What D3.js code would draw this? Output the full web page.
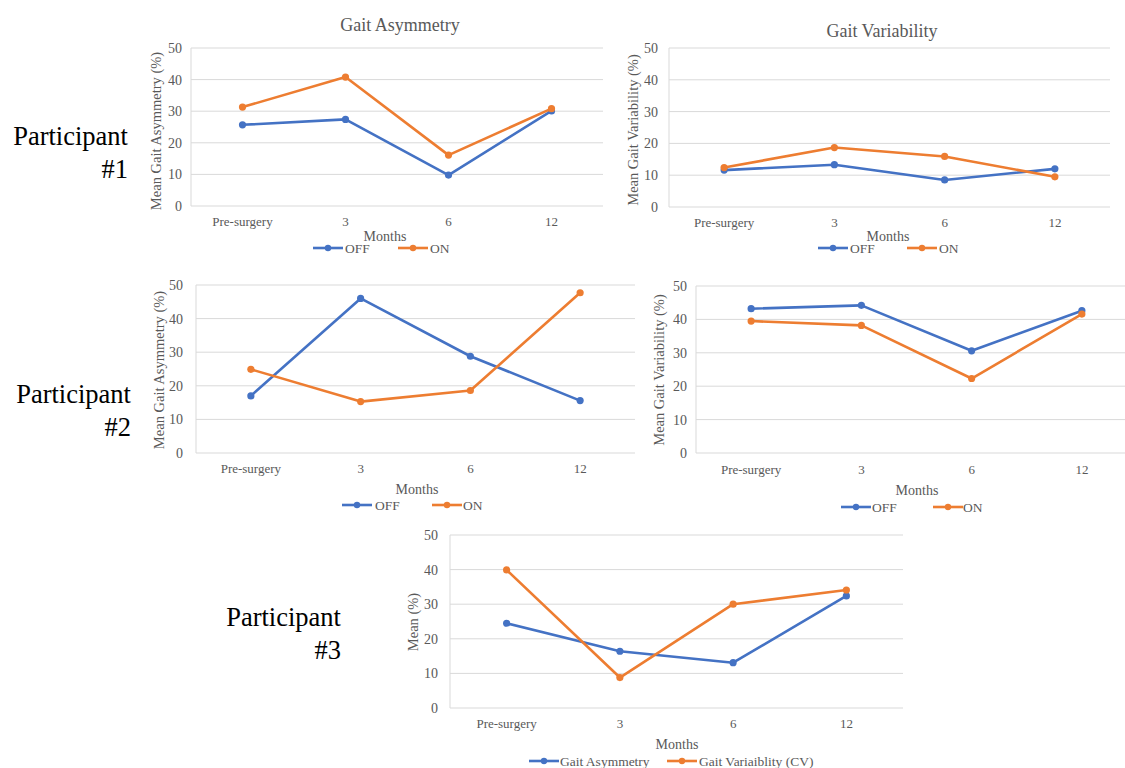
<!DOCTYPE html>
<html>
<head>
<meta charset="utf-8">
<script src="https://cdn.jsdelivr.net/npm/d3@7"></script>
<style>
html,body{margin:0;padding:0;background:#fff;}
svg text{font-family:'Liberation Serif','Times New Roman',Times,serif;}
</style>
</head>
<body>
<svg id="chart" width="1125" height="768"></svg>
<script>
// ---------- data ----------
const categories = ["Pre-surgery", "3", "6", "12"];
const yTicks = [0, 10, 20, 30, 40, 50];

const p1AsymOff = [25.7, 27.4, 9.8, 30.1];
const p1AsymOn  = [31.3, 40.8, 16.1, 30.8];
const p1VarOff  = [11.6, 13.3, 8.5, 12.0];
const p1VarOn   = [12.4, 18.7, 15.9, 9.5];
const p2AsymOff = [17.0, 46.0, 28.8, 15.6];
const p2AsymOn  = [24.9, 15.3, 18.6, 47.7];
const p2VarOff  = [43.2, 44.2, 30.6, 42.6];
const p2VarOn   = [39.5, 38.2, 22.3, 41.6];
const p3Asym    = [24.5, 16.4, 13.1, 32.4];
const p3Var     = [39.9, 8.8, 30.0, 34.1];

const seriesNamesOnOff = ["OFF", "ON"];
const seriesNamesP3 = ["Gait Asymmetry", "Gait Variaiblity (CV)"];
const colors = ["#4472C4", "#ED7D31"];

// ---------- layout ----------
const FONT = "Liberation Serif";
const panels = [
  {left:191, right:603, top:48, bottom:206, tickPad:9, title:"Gait Asymmetry", titleX:400, titleY:31,
   ylabel:"Mean Gait Asymmetry (%)", ylabelX:156, ylabelY:131, catY:226, monthsX:385, monthsY:241,
   series:[p1AsymOff, p1AsymOn], names:seriesNamesOnOff, legend:[{x:313,tx:345},{x:398,tx:430}], legY:248},
  {left:669, right:1110, top:48, bottom:207, tickPad:11, title:"Gait Variability", titleX:882, titleY:37,
   ylabel:"Mean Gait Variability (%)", ylabelX:633, ylabelY:130, catY:227, monthsX:888, monthsY:241,
   series:[p1VarOff, p1VarOn], names:seriesNamesOnOff, legend:[{x:818,tx:850},{x:907,tx:939}], legY:248},
  {left:196, right:635, top:285, bottom:453, tickPad:13, title:null,
   ylabel:"Mean Gait Asymmetry (%)", ylabelX:159, ylabelY:370, catY:473, monthsX:417, monthsY:494,
   series:[p2AsymOff, p2AsymOn], names:seriesNamesOnOff, legend:[{x:342,tx:375},{x:432,tx:463}], legY:505},
  {left:696, right:1137, top:286, bottom:453, tickPad:9, title:null,
   ylabel:"Mean Gait Variability (%)", ylabelX:659, ylabelY:370, catY:474, monthsX:917, monthsY:495,
   series:[p2VarOff, p2VarOn], names:seriesNamesOnOff, legend:[{x:841,tx:872},{x:933,tx:963}], legY:507},
  {left:450, right:903, top:535, bottom:708, tickPad:12, title:null,
   ylabel:"Mean (%)", ylabelX:413, ylabelY:622, catY:728, monthsX:677, monthsY:749,
   series:[p3Asym, p3Var], names:seriesNamesP3, legend:[{x:529,tx:560},{x:667,tx:699}], legY:761}
];

const participants = [
  {x:128, y1:145, y2:178, num:"#1"},
  {x:131, y1:403, y2:436, num:"#2"},
  {x:341, y1:626, y2:659, num:"#3"}
];

const svg = d3.select("#chart");
const grey = "#595959";

panels.forEach(p => {
  const x = d3.scaleBand().domain(categories).range([p.left, p.right]).padding(0);
  const y = d3.scaleLinear().domain([0, 50]).range([p.bottom, p.top]);
  const g = svg.append("g").attr("font-family", FONT);

  // gridlines
  g.selectAll("line.grid").data(yTicks).join("line")
    .attr("x1", p.left).attr("x2", p.right)
    .attr("y1", d => y(d)).attr("y2", d => y(d))
    .attr("stroke", "#d9d9d9").attr("stroke-width", 1);
  g.append("line").attr("x1", p.left).attr("x2", p.left)
    .attr("y1", p.top).attr("y2", p.bottom).attr("stroke", "#d9d9d9");

  // y axis
  const ya = g.append("g").attr("transform", `translate(${p.left - p.tickPad},0)`)
    .call(d3.axisLeft(y).tickValues(yTicks).tickSize(0).tickPadding(0));
  ya.attr("font-family", FONT).attr("font-size", 14);
  ya.select(".domain").remove();
  ya.selectAll("text").attr("font-family", FONT).attr("font-size", 14).attr("fill", grey);

  // x categories
  g.selectAll("text.cat").data(categories).join("text")
    .attr("x", d => x(d) + x.bandwidth() / 2).attr("y", p.catY)
    .attr("text-anchor", "middle").attr("font-family", FONT).attr("font-size", 13).attr("fill", grey).text(d => d);

  // months
  g.append("text").attr("x", p.monthsX).attr("y", p.monthsY).attr("text-anchor", "middle")
    .attr("font-family", FONT).attr("font-size", 14).attr("fill", grey).text("Months");

  // y label
  g.append("text").attr("transform", `translate(${p.ylabelX},${p.ylabelY}) rotate(-90)`)
    .attr("text-anchor", "middle").attr("dy", "0.35em").attr("font-family", FONT)
    .attr("font-size", 14.5).attr("fill", grey).text(p.ylabel);

  // title
  if (p.title) {
    g.append("text").attr("x", p.titleX).attr("y", p.titleY).attr("text-anchor", "middle")
      .attr("font-family", FONT).attr("font-size", 18).attr("fill", grey).text(p.title);
  }

  // series
  const line = d3.line().x((d, i) => x(categories[i]) + x.bandwidth() / 2).y(d => y(d));
  p.series.forEach((s, si) => {
    g.append("path").datum(s).attr("d", line).attr("fill", "none")
      .attr("stroke", colors[si]).attr("stroke-width", 2.6).attr("stroke-linejoin", "round");
    g.selectAll(null).data(s).join("circle")
      .attr("cx", (d, i) => x(categories[i]) + x.bandwidth() / 2).attr("cy", d => y(d))
      .attr("r", 3.6).attr("fill", colors[si]);
  });

  // legend
  p.legend.forEach((l, si) => {
    g.append("line").attr("x1", l.x).attr("x2", l.x + 30).attr("y1", p.legY).attr("y2", p.legY)
      .attr("stroke", colors[si]).attr("stroke-width", 2.6);
    g.append("circle").attr("cx", l.x + 15).attr("cy", p.legY).attr("r", 3.2).attr("fill", colors[si]);
    g.append("text").attr("x", l.tx).attr("y", p.legY + 4.5).attr("font-family", FONT)
      .attr("font-size", 13.5).attr("fill", grey).text(p.names[si]);
  });
});

participants.forEach(pt => {
  svg.append("text").attr("x", pt.x).attr("y", pt.y1).attr("text-anchor", "end")
    .attr("font-family", FONT).attr("font-size", 26.5).attr("fill", "#000").text("Participant");
  svg.append("text").attr("x", pt.x).attr("y", pt.y2).attr("text-anchor", "end")
    .attr("font-family", FONT).attr("font-size", 26.5).attr("fill", "#000").text(pt.num);
});
</script>
</body>
</html>
